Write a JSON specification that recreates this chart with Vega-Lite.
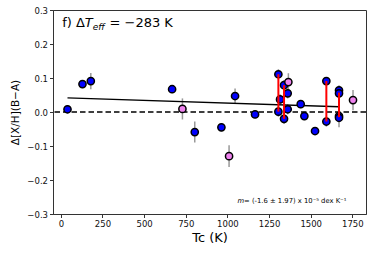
{
  "$schema": "https://vega.github.io/schema/vega-lite/v6.json",
  "width": 313,
  "height": 204,
  "autosize": "none",
  "padding": {"left": 53, "top": 10, "right": 8, "bottom": 40},
  "background": "white",
  "config": {
    "font": "DejaVu Sans",
    "view": {"stroke": "#333", "strokeWidth": 1},
    "axis": {
      "grid": false,
      "domainColor": "#333",
      "tickColor": "#333",
      "tickSize": 3.5,
      "labelFontSize": 8.5,
      "labelColor": "#111",
      "labelOverlap": false,
      "titleFontSize": 13,
      "titleFontWeight": "normal",
      "titleColor": "#000",
      "labelPadding": 2
    }
  },
  "datasets": {
    "points": [
      {"Tc": 40, "dXH": 0.008, "err": 0.012, "group": "blue"},
      {"Tc": 130, "dXH": 0.082, "err": 0.012, "group": "blue"},
      {"Tc": 180, "dXH": 0.091, "err": 0.024, "group": "blue"},
      {"Tc": 668, "dXH": 0.067, "err": 0.012, "group": "blue"},
      {"Tc": 730, "dXH": 0.009, "err": 0.031, "group": "violet"},
      {"Tc": 804, "dXH": -0.059, "err": 0.031, "group": "blue"},
      {"Tc": 964, "dXH": -0.045, "err": 0.012, "group": "blue"},
      {"Tc": 1010, "dXH": -0.130, "err": 0.032, "group": "violet"},
      {"Tc": 1046, "dXH": 0.047, "err": 0.022, "group": "blue"},
      {"Tc": 1166, "dXH": -0.007, "err": 0.012, "group": "blue"},
      {"Tc": 1306, "dXH": 0.111, "err": 0.015, "group": "blue"},
      {"Tc": 1306, "dXH": 0.001, "err": 0.015, "group": "blue"},
      {"Tc": 1316, "dXH": 0.037, "err": 0.015, "group": "blue"},
      {"Tc": 1340, "dXH": 0.079, "err": 0.015, "group": "blue"},
      {"Tc": 1340, "dXH": -0.020, "err": 0.015, "group": "blue"},
      {"Tc": 1362, "dXH": 0.055, "err": 0.015, "group": "blue"},
      {"Tc": 1362, "dXH": 0.008, "err": 0.015, "group": "blue"},
      {"Tc": 1366, "dXH": 0.088, "err": 0.026, "group": "violet"},
      {"Tc": 1440, "dXH": 0.023, "err": 0.012, "group": "blue"},
      {"Tc": 1462, "dXH": -0.012, "err": 0.012, "group": "blue"},
      {"Tc": 1526, "dXH": -0.056, "err": 0.012, "group": "blue"},
      {"Tc": 1594, "dXH": 0.091, "err": 0.012, "group": "blue"},
      {"Tc": 1594, "dXH": -0.028, "err": 0.015, "group": "blue"},
      {"Tc": 1670, "dXH": 0.064, "err": 0.015, "group": "blue"},
      {"Tc": 1670, "dXH": 0.055, "err": 0.015, "group": "blue"},
      {"Tc": 1670, "dXH": -0.012, "err": 0.015, "group": "blue"},
      {"Tc": 1670, "dXH": -0.017, "err": 0.028, "group": "blue"},
      {"Tc": 1754, "dXH": 0.035, "err": 0.030, "group": "violet"}
    ],
    "pairs": [
      {"Tc": 1306, "dXH": 0.111, "dXH2": 0.001},
      {"Tc": 1340, "dXH": 0.079, "dXH2": -0.020},
      {"Tc": 1594, "dXH": 0.091, "dXH2": -0.028},
      {"Tc": 1670, "dXH": 0.057, "dXH2": -0.015}
    ],
    "fit": [
      {"Tc": 40, "dXH": 0.0415},
      {"Tc": 1670, "dXH": 0.0155}
    ],
    "one": [{}]
  },
  "layer": [
    {
      "data": {"name": "points"},
      "mark": {"type": "errorbar", "color": "#999999", "thickness": 1.5},
      "encoding": {
        "x": {"field": "Tc", "type": "quantitative", "title": "Tc (K)",
              "scale": {"domain": [-47, 1832], "nice": false, "zero": false},
              "axis": {"values": [0, 250, 500, 750, 1000, 1250, 1500, 1750], "tickCount": 12, "format": "d", "titlePadding": 3}},
        "y": {"field": "dXH", "type": "quantitative", "title": "Δ[X/H](B−A)",
              "scale": {"domain": [-0.3, 0.3], "nice": false, "zero": false},
              "axis": {"values": [-0.3, -0.2, -0.1, 0, 0.1, 0.2, 0.3], "tickCount": 12, "format": ".1f", "titleFontSize": 10.5, "titlePadding": 6}},
        "yError": {"field": "err"}
      }
    },
    {
      "data": {"name": "one"},
      "mark": {"type": "rule", "color": "black", "strokeWidth": 1.4, "strokeDash": [5.5, 3]},
      "encoding": {"y": {"datum": 0}}
    },
    {
      "data": {"name": "fit"},
      "mark": {"type": "line", "color": "black", "strokeWidth": 1.4},
      "encoding": {
        "x": {"field": "Tc", "type": "quantitative", "title": "Tc (K)"},
        "y": {"field": "dXH", "type": "quantitative", "title": "Δ[X/H](B−A)"}
      }
    },
    {
      "data": {"name": "points"},
      "mark": {"type": "point", "filled": true, "size": 52, "stroke": "black", "strokeWidth": 1.5, "opacity": 1},
      "encoding": {
        "x": {"field": "Tc", "type": "quantitative", "title": "Tc (K)"},
        "y": {"field": "dXH", "type": "quantitative", "title": "Δ[X/H](B−A)"},
        "color": {"field": "group", "type": "nominal",
                  "scale": {"domain": ["blue", "violet"], "range": ["#0000ff", "#ee82ee"]},
                  "legend": null}
      }
    },
    {
      "data": {"name": "pairs"},
      "mark": {"type": "rule", "color": "#ff0000", "strokeWidth": 2},
      "encoding": {
        "x": {"field": "Tc", "type": "quantitative", "title": "Tc (K)"},
        "y": {"field": "dXH", "type": "quantitative", "title": "Δ[X/H](B−A)"},
        "y2": {"field": "dXH2"}
      }
    },
    {
      "data": {"name": "one"},
      "mark": {"type": "text", "text": "f) Δ", "fontSize": 13, "align": "left", "baseline": "alphabetic", "color": "black"},
      "encoding": {"x": {"datum": 8}, "y": {"datum": 0.25}}
    },
    {
      "data": {"name": "one"},
      "mark": {"type": "text", "text": "T", "fontSize": 13, "fontStyle": "italic", "align": "left", "baseline": "alphabetic", "color": "black"},
      "encoding": {"x": {"datum": 144}, "y": {"datum": 0.25}}
    },
    {
      "data": {"name": "one"},
      "mark": {"type": "text", "text": "eff", "fontSize": 9, "fontStyle": "italic", "align": "left", "baseline": "alphabetic", "color": "black"},
      "encoding": {"x": {"datum": 191}, "y": {"datum": 0.241}}
    },
    {
      "data": {"name": "one"},
      "mark": {"type": "text", "text": "= −283 K", "fontSize": 13, "align": "left", "baseline": "alphabetic", "color": "black"},
      "encoding": {"x": {"datum": 292}, "y": {"datum": 0.25}}
    },
    {
      "data": {"name": "one"},
      "mark": {"type": "text", "text": "m", "fontSize": 6.8, "fontStyle": "italic", "align": "right", "baseline": "alphabetic", "color": "black"},
      "encoding": {"x": {"datum": 1100}, "y": {"datum": -0.267}}
    },
    {
      "data": {"name": "one"},
      "mark": {"type": "text", "text": "= (-1.6 ± 1.97) x 10⁻⁵ dex K⁻¹", "fontSize": 6.8, "align": "left", "baseline": "alphabetic", "color": "black"},
      "encoding": {"x": {"datum": 1100}, "y": {"datum": -0.267}}
    }
  ]
}
